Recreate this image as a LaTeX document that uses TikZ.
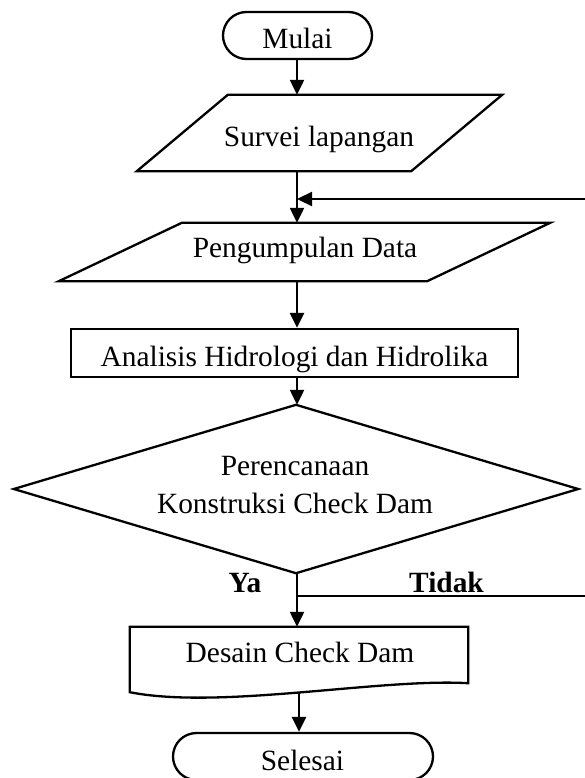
\documentclass[tikz,border=0pt]{standalone}
\usepackage{fontspec}
\setmainfont{Liberation Serif}
\usetikzlibrary{arrows.meta,calc,shapes.misc}
\tikzset{
  fl/.style={line width=2.3bp, line join=miter},
  txt/.style={font=\fontsize{29.5}{38}\selectfont, inner sep=0pt, anchor=base},
  boldtxt/.style={font=\fontsize{29.5}{38}\selectfont\bfseries, inner sep=0pt, anchor=base},
  frame/.style={inner sep=0pt, draw=none},
  term/.style={draw, rounded rectangle, inner sep=0pt, line width=2.3bp},
  arr/.style={line width=2.3bp, -{Triangle[length=15bp,width=14bp]}},
}
\begin{document}
\begin{tikzpicture}[x=1bp,y=-1bp]
\useasboundingbox (0,0) rectangle (585,778);
\fill[white] (0,0) rectangle (585,778);
\clip (0,0) rectangle (585,778);

% Mulai
\node[term, minimum width=149bp, minimum height=47bp] (mulai) at (297.5,35.5) {};
\node[txt] (mulaiT) at (297.5,49) {Mulai};

% Survei lapangan
\node[frame, minimum width=365bp, minimum height=76bp] (survei) at (319.5,133) {};
\draw[fl] ($(survei.north west)+(91,0)$) -- (survei.north east) -- ($(survei.south east)-(91,0)$) -- (survei.south west) -- cycle;
\node[txt] (surveiT) at (319,146) {Survei lapangan};

% Pengumpulan Data
\node[frame, minimum width=491bp, minimum height=58bp] (peng) at (304.5,252) {};
\draw[fl] ($(peng.north west)+(123,0)$) -- (peng.north east) -- ($(peng.south east)-(123,0)$) -- (peng.south west) -- cycle;
\node[txt] (pengT) at (305,257) {Pengumpulan Data};

% Analisis
\node[frame, draw, line width=2.3bp, minimum width=447bp, minimum height=48bp] (anal) at (294.5,353) {};
\node[txt] (analT) at (294.5,366) {Analisis Hidrologi dan Hidrolika};

% Decision
\node[frame, minimum width=564bp, minimum height=168bp] (dec) at (296,489) {};
\draw[fl] (dec.north) -- (dec.east) -- (dec.south) -- (dec.west) -- cycle;
\node[txt] (decT1) at (295,475) {Perencanaan};
\node[txt] (decT2) at (295,513) {Konstruksi Check Dam};

% Desain
\node[frame, minimum width=338bp, minimum height=65bp] (desain) at (299,659.5) {};
\draw[fl] (desain.north west) -- (desain.north east) -- ($(desain.south east)+(0,-9)$)
  .. controls (380,678) and (220,710) .. (desain.south west) -- cycle;
\node[txt] (desainT) at (300,662) {Desain Check Dam};

% Selesai
\node[term, minimum width=260bp, minimum height=47bp] (selesai) at (303,756.5) {};
\node[txt] (selesaiT) at (302.5,770) {Selesai};

% Labels
\node[boldtxt] (ya) at (245,592) {Ya};
\node[boldtxt] (tidak) at (446.5,592) {Tidak};

% Connectors
\coordinate (axis) at (297,0);
\draw[arr] (axis |- mulai.south) -- (axis |- survei.north);
\draw[arr] (axis |- survei.south) -- (axis |- peng.north);
\draw[arr] (axis |- peng.south) -- (axis |- anal.north);
\draw[arr] (axis |- anal.south) -- (axis |- dec.north);
\draw[arr] (axis |- dec.south) -- (axis |- desain.north);
\draw[arr] (desain.south) -- (desain.south |- selesai.north);

% Tidak loop (vertical part lies beyond the right edge)
\coordinate (jn) at ($(axis |- dec.south)+(0,23)$);
\coordinate (far) at (620,199);
\coordinate (fbin) at (297,199);
\draw[arr] (jn) -- (jn -| far) -- (far) -- (fbin);
\end{tikzpicture}
\end{document}
